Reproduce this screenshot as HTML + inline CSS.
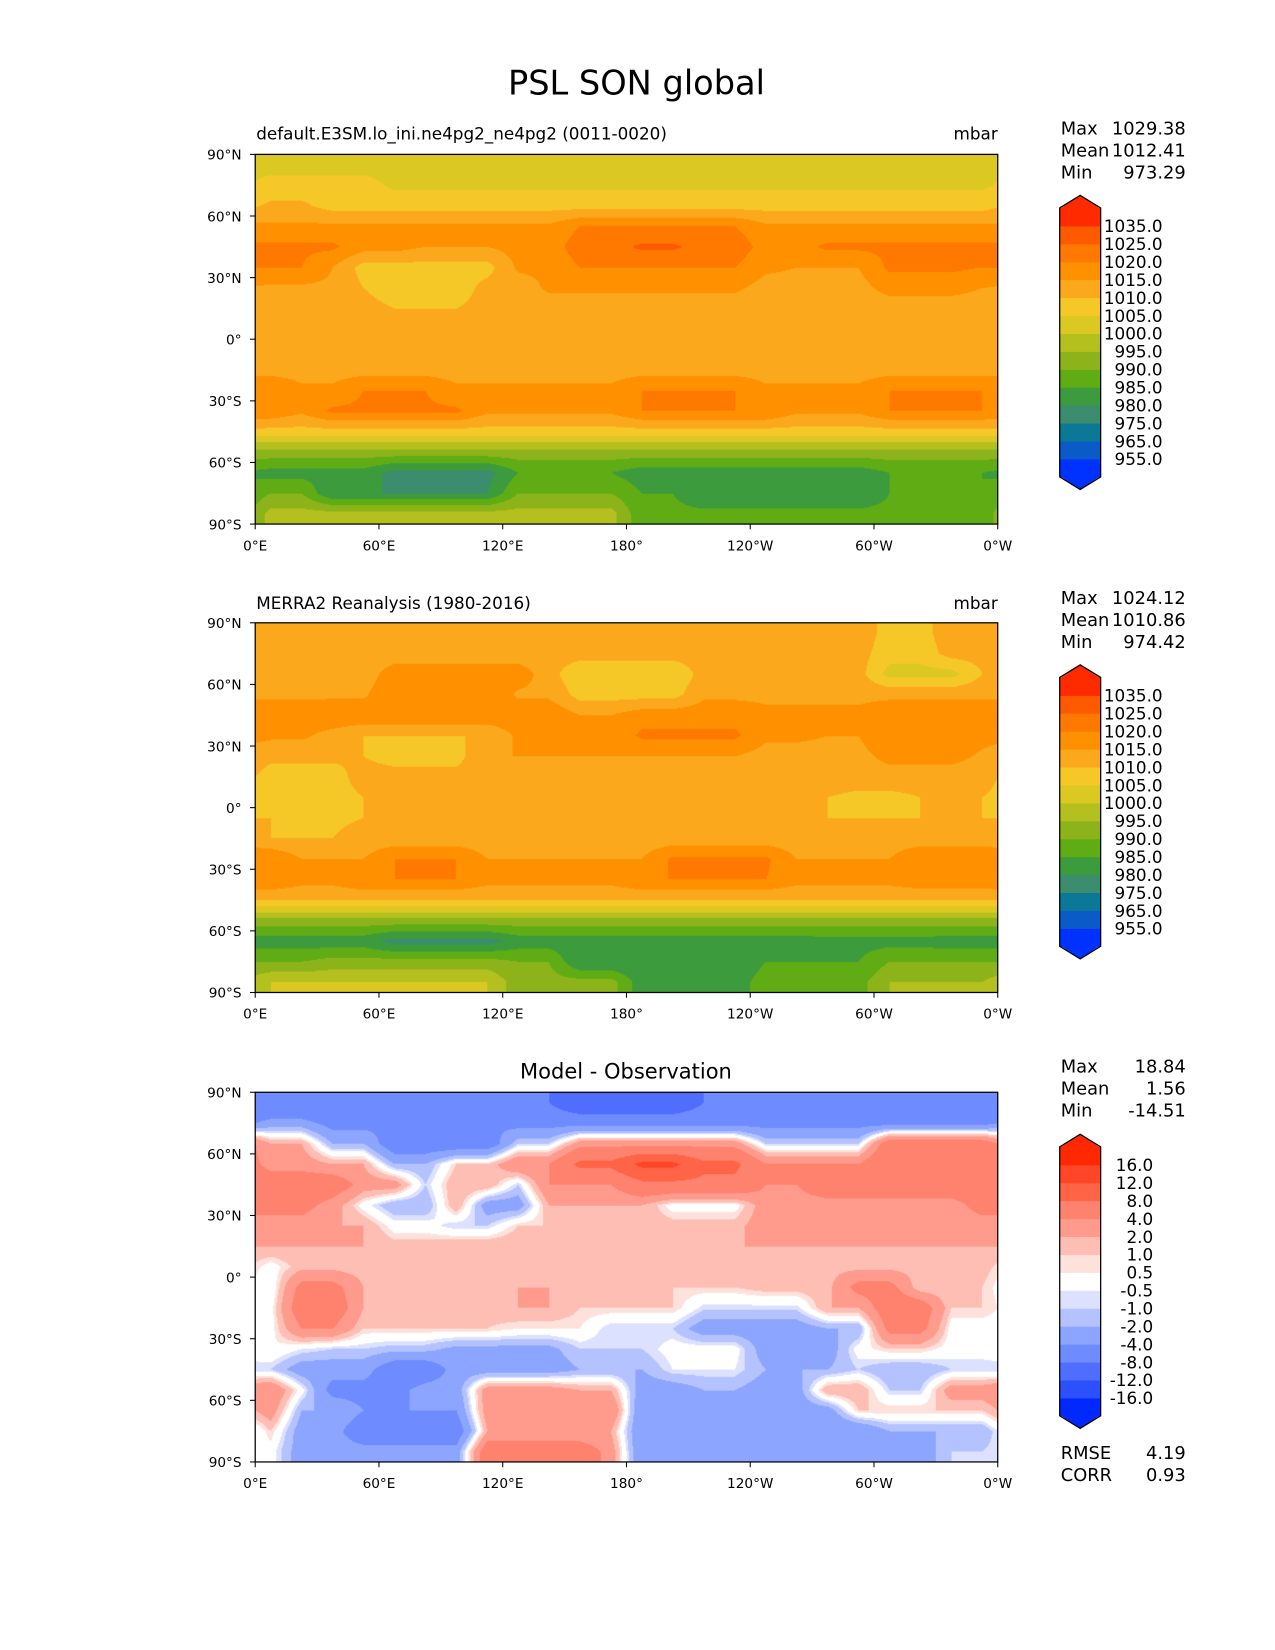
<!DOCTYPE html>
<html><head><meta charset="utf-8"><style>
html,body{margin:0;padding:0;background:#fff;width:1275px;height:1650px;overflow:hidden}
#root{position:absolute;left:0;top:0;width:1214px;height:1571px;transform:scale(1.05025);transform-origin:0 0;font-family:"DejaVu Sans","Liberation Sans",sans-serif}
canvas{position:absolute}
svg{position:absolute;left:0;top:0}
</style></head><body>
<div id="root">
<canvas id="c1" width="707" height="352" style="left:243px;top:147px"></canvas>
<canvas id="c2" width="707" height="352" style="left:243px;top:593px"></canvas>
<canvas id="c3" width="707" height="352" style="left:243px;top:1040px"></canvas>
<svg id="ov" width="1214" height="1571">
<text x="606" y="90" font-size="32" text-anchor="middle">PSL SON global</text>
<text x="244" y="133" font-size="16">default.E3SM.lo_ini.ne4pg2_ne4pg2 (0011-0020)</text>
<text x="950" y="133" font-size="16" text-anchor="end">mbar</text>
<text x="244" y="580" font-size="16">MERRA2 Reanalysis (1980-2016)</text>
<text x="950" y="580" font-size="16" text-anchor="end">mbar</text>
<text x="596" y="1027" font-size="20" text-anchor="middle">Model - Observation</text>
<g font-size="17">
<text x="1010" y="128">Max</text><text x="1129" y="128" text-anchor="end">1029.38</text>
<text x="1010" y="149">Mean</text><text x="1129" y="149" text-anchor="end">1012.41</text>
<text x="1010" y="170">Min</text><text x="1129" y="170" text-anchor="end">973.29</text></g>
<g font-size="17">
<text x="1010" y="575">Max</text><text x="1129" y="575" text-anchor="end">1024.12</text>
<text x="1010" y="596">Mean</text><text x="1129" y="596" text-anchor="end">1010.86</text>
<text x="1010" y="617">Min</text><text x="1129" y="617" text-anchor="end">974.42</text></g>
<g font-size="17">
<text x="1010" y="1021">Max</text><text x="1129" y="1021" text-anchor="end">18.84</text>
<text x="1010" y="1042">Mean</text><text x="1129" y="1042" text-anchor="end">1.56</text>
<text x="1010" y="1063">Min</text><text x="1129" y="1063" text-anchor="end">-14.51</text>
<text x="1010" y="1389">RMSE</text><text x="1129" y="1389" text-anchor="end">4.19</text>
<text x="1010" y="1410">CORR</text><text x="1129" y="1410" text-anchor="end">0.93</text></g>
</svg>
</div>
<script>
const latTicks=["90°N","60°N","30°N","0°","30°S","60°S","90°S"];
const lonTicks=["0°E","60°E","120°E","180°","120°W","60°W","0°W"];
const pslLevels=[955,965,975,980,985,990,995,1000,1005,1010,1015,1020,1025,1035];
const pslColors=["#0032ff","#0a5ac8","#0a7896","#3c8c6e","#3c9b3c","#5fac14","#8cb41a","#b4c01e","#dcc823","#f5c828","#fca81c","#ff9000","#ff7800","#ff5a00","#ff2a00"];
const pslTickLabels=["955.0","965.0","975.0","980.0","985.0","990.0","995.0","1000.0","1005.0","1010.0","1015.0","1020.0","1025.0","1035.0"];
const diffLevels=[-16,-12,-8,-4,-2,-1,-0.5,0.5,1,2,4,8,12,16];
const diffColors=["#0028ff","#2d50ff","#4f6eff","#6e8cff","#8ca5ff","#b4c3ff","#dce1ff","#ffffff","#ffe1dc","#ffbeb4","#ff9b8c","#ff826e","#ff6446","#ff4628","#ff2800"];
const diffTickLabels=["-16.0","-12.0","-8.0","-4.0","-2.0","-1.0","-0.5","0.5","1.0","2.0","4.0","8.0","12.0","16.0"];
// rows: lat 85..-85 (10°), cols: lon 7.5..352.5 (15°)
const modelPSL=[
[1003,1003,1003,1003,1003,1003,1003,1003,1003,1003,1003,1003,1003,1003,1003,1003,1003,1003,1003,1003,1003,1003,1003,1003],
[1007,1007,1007,1007,1004,1004,1004,1004,1004,1004,1004,1004,1004,1004,1004,1004,1004,1004,1004,1004,1004,1004,1004,1004],
[1011,1011,1008,1008,1008,1008,1008,1008,1008,1008,1008,1008,1008,1008,1008,1008,1008,1008,1008,1008,1008,1008,1008,1008],
[1016,1016,1016,1016,1016,1016,1016,1016,1016,1016,1020,1020,1020,1020,1020,1020,1016,1016,1016,1016,1016,1016,1016,1016],
[1021,1021,1021,1017,1017,1015,1015,1015,1017,1017,1023,1023,1026,1026,1023,1023,1018,1018,1021,1021,1021,1021,1021,1021],
[1020,1020,1015,1008,1008,1008,1008,1008,1016,1016,1020,1020,1020,1020,1020,1020,1016,1015,1015,1015,1021,1021,1021,1020],
[1014,1014,1014,1010,1007,1007,1007,1012,1012,1016,1016,1016,1016,1016,1016,1016,1013,1013,1013,1013,1017,1017,1017,1015],
[1012,1012,1012,1012,1010,1010,1010,1012,1012,1012,1012,1012,1012,1012,1012,1012,1012,1012,1012,1012,1012,1012,1012,1012],
[1011,1011,1011,1011,1011,1011,1011,1011,1011,1011,1011,1011,1011,1011,1011,1011,1011,1011,1011,1011,1011,1011,1011,1011],
[1011,1011,1011,1011,1011,1011,1011,1011,1011,1011,1011,1011,1011,1011,1011,1011,1011,1011,1011,1010,1010,1011,1011,1011],
[1013,1013,1013,1013,1013,1013,1013,1013,1013,1013,1013,1013,1013,1013,1013,1013,1013,1013,1013,1013,1013,1013,1013,1013],
[1020,1016,1016,1020,1020,1020,1016,1016,1016,1016,1016,1016,1020,1020,1020,1020,1016,1016,1016,1016,1020,1020,1020,1020],
[1019,1016,1021,1021,1021,1021,1021,1016,1016,1016,1016,1016,1020,1020,1020,1020,1020,1016,1016,1016,1020,1020,1020,1020],
[1008,1008,1008,1008,1008,1008,1008,1008,1008,1008,1008,1008,1008,1008,1008,1008,1008,1008,1008,1008,1008,1008,1008,1008],
[993,993,993,993,993,993,993,993,993,993,993,993,993,993,993,993,993,993,993,993,993,993,993,993],
[983,983,983,983,978,978,978,978,985,985,985,985,982,982,982,982,982,982,982,982,985,985,985,985],
[990,990,980,980,980,980,980,980,990,990,990,990,985,985,982,982,982,982,982,982,985,985,985,985],
[997,997,997,997,997,997,997,997,997,997,997,997,986,986,986,986,986,986,986,986,986,986,986,986]];
const obsPSL=[
[1013,1013,1013,1013,1013,1013,1013,1013,1013,1013,1013,1013,1013,1013,1013,1013,1013,1013,1013,1013,1008,1008,1013,1013],
[1012,1012,1012,1012,1012,1012,1012,1012,1012,1012,1012,1012,1012,1012,1012,1012,1012,1012,1012,1012,1007,1007,1012,1012],
[1012,1012,1012,1012,1018,1018,1018,1018,1018,1012,1006,1006,1006,1006,1012,1012,1012,1012,1012,1012,1003,1003,1003,1010],
[1014,1014,1014,1014,1020,1020,1020,1020,1014,1014,1008,1008,1008,1008,1014,1014,1014,1014,1014,1014,1014,1014,1014,1014],
[1018,1018,1019,1019,1019,1019,1019,1019,1019,1019,1015,1015,1018,1018,1018,1018,1016,1016,1016,1016,1018,1018,1018,1018],
[1016,1016,1013,1010,1010,1010,1010,1010,1016,1016,1016,1016,1021,1021,1021,1021,1016,1016,1015,1015,1020,1020,1020,1017],
[1011,1011,1011,1010,1008,1008,1008,1015,1015,1015,1015,1015,1015,1015,1015,1015,1013,1013,1013,1013,1017,1017,1017,1014],
[1008,1008,1008,1012,1012,1012,1012,1012,1012,1012,1012,1012,1012,1012,1012,1012,1012,1012,1012,1012,1012,1012,1012,1012],
[1008,1008,1008,1010,1010,1010,1010,1010,1010,1010,1010,1010,1010,1010,1010,1010,1010,1010,1010,1009,1009,1010,1010,1010],
[1010,1009,1009,1010,1010,1010,1010,1010,1010,1010,1010,1010,1010,1010,1010,1010,1010,1010,1010,1010,1010,1010,1010,1010],
[1010,1010,1010,1012,1012,1012,1012,1012,1012,1012,1012,1012,1012,1012,1012,1012,1012,1012,1012,1012,1012,1012,1012,1012],
[1020,1015,1015,1015,1020,1020,1020,1015,1015,1015,1015,1015,1015,1021,1021,1021,1021,1015,1015,1015,1015,1020,1020,1020],
[1020,1017,1017,1020,1020,1020,1020,1017,1017,1017,1017,1017,1020,1020,1020,1020,1020,1017,1017,1017,1017,1019,1019,1019],
[1010,1010,1010,1010,1010,1010,1010,1010,1010,1010,1010,1010,1010,1010,1010,1010,1010,1010,1010,1010,1010,1010,1010,1010],
[993,993,993,993,993,993,993,993,993,993,993,993,993,993,993,993,993,993,993,993,993,993,993,993],
[982,982,982,982,978,978,978,978,982,982,982,982,982,982,982,982,982,982,983,983,983,983,982,982],
[990,990,992,992,992,992,992,992,990,990,980,980,980,980,980,980,985,985,985,985,990,990,990,990],
[1000,1000,1000,1000,1000,1000,1000,1000,992,992,992,992,982,982,982,982,988,988,988,988,995,995,995,995]];
const diffPSL=[
[-8,-8,-8,-8,-8,-8,-8,-8,-8,-8,-12,-12,-12,-12,-8,-8,-8,-8,-8,-8,-8,-8,-8,-8],
[-3,-3,-5,-5,-4,-4,-4,-4,-5,-5,-5,-5,-5,-5,-5,-5,-5,-5,-5,-5,-5,-5,-5,-5],
[2,2,-2,-2,-6,-6,-6,-6,-1,-1,3,3,3,3,3,3,-1,-1,-1,-1,6,6,6,6],
[3,3,2,2,-2,-2,1,1,4,4,9,9,13,13,9,9,4,4,4,4,8,8,8,6],
[6,6,6,3,3,-1,2,2,-1,4,4,4,7,7,7,7,4,4,6,6,6,6,6,6],
[5,5,3,0,-2,-2,2,-3,-3,2,2,2,2,0,0,0,3,3,3,3,3,3,3,5],
[3,3,2,2,0,0,-1,-1,1,1,1.5,1.5,1.5,1.5,1.5,1.5,3,3,3,3,3,3,3,3],
[2,2,2,2,1.5,1.5,2,2,2,2,2,2,2,2,2,2,2,2,2,2,2,2,2,2],
[0,1.5,1.5,1.2,1.2,1.2,1.5,1.5,1.5,1.5,1.5,1.5,1.5,1.5,1.5,1.5,1.5,1.5,1.5,1.5,1.5,1.5,1.5,1.5],
[-0.5,5,5,2,2,2,2,2,2,2,1,1,1,1,1,1,1.5,1.5,1.5,5,5,1,1,1],
[0,6,6,2,1.5,1.5,1.5,1.5,2,2,1,1,1,1,-0.8,-0.8,-0.8,-0.8,2,2,6,6,1,1],
[0,4,4,1,1,1,1,1,0.5,0.5,0.5,-1,-1,-1,-3,-3,-3,-3,-2,-2,5,5,0,0],
[0.5,-0.5,-1,-1,-1.5,-1.5,-2.5,-2.5,-2.5,-2.5,-1,-1,-1,0,0,0,-3,-3,-3,0,1,1,0,0],
[-1,-3,-3,-3,-6,-6,-3,-3,-3,-3,-2,-2,-2,-0.5,-0.5,-0.5,-2,-2,-2,-1,-2,-2,-1,-1],
[4,0,-5,-5,-5,-3,-3,3,3,3,2,2,-3,-3,-2,-2,-3,-3,2,2,-1,-1,3,3],
[3,-2,-2,-4,-4,-4,-4,3,3,3,4,4,-4,-4,-3,-3,-3,-3,-3,1,1,1,1,1],
[1,-3,-3,-6,-6,-6,-6,2,2,2,2,2,-4,-4,-4,-4,-4,-4,-4,-4,-2,-2,-2,-2],
[0,-3,-3,-3,-3,-3,-3,6,6,6,6,3,-4,-4,-4,-4,-4,-4,-3,-3,-3,-3,-1,-1]];

const W=707,H=352;
function xScale(lon){return lon/360*W;}
function yScale(lat){return (90-lat)/180*H;}
function hex(c){return [parseInt(c.substr(1,2),16),parseInt(c.substr(3,2),16),parseInt(c.substr(5,2),16)];}
function sample(grid,lon,lat){
  let fj=(lon-7.5)/15, fi=(85-lat)/10;
  fi=Math.max(0,Math.min(17,fi));
  const i0=Math.floor(fi), i1=Math.min(17,i0+1), ti=fi-i0;
  const jf=Math.floor(fj), tj=fj-jf;
  const j0=((jf%24)+24)%24, j1=(j0+1)%24;
  const a=grid[i0][j0]*(1-tj)+grid[i0][j1]*tj;
  const b=grid[i1][j0]*(1-tj)+grid[i1][j1]*tj;
  return a*(1-ti)+b*ti;
}
function drawField(id,grid,levels,colors){
  const ctx=document.getElementById(id).getContext('2d');
  const img=ctx.createImageData(W,H);const rgb=colors.map(hex);
  for(let py=0;py<H;py++){const lat=90-(py+0.5)/H*180;
    for(let px=0;px<W;px++){const lon=(px+0.5)/W*360;
      const v=sample(grid,lon,lat);let k=0;while(k<levels.length&&v>=levels[k])k++;
      const c=rgb[k],o=(py*W+px)*4;img.data[o]=c[0];img.data[o+1]=c[1];img.data[o+2]=c[2];img.data[o+3]=255;}}
  ctx.putImageData(img,0,0);
}
drawField('c1',modelPSL,pslLevels,pslColors);
drawField('c2',obsPSL,pslLevels,pslColors);
drawField('c3',diffPSL,diffLevels,diffColors);

const NS="http://www.w3.org/2000/svg";const ov=document.getElementById('ov');
function mk(tag,attrs,parent){const e=document.createElementNS(NS,tag);for(const k in attrs)e.setAttribute(k,attrs[k]);(parent||ov).appendChild(e);return e;}
[147,593,1040].forEach((top,p)=>{
  const g=mk('g',{});
  
  
  mk('rect',{x:243,y:top,width:W,height:H,fill:'none',stroke:'#000','stroke-width':1.2},g);
  latTicks.forEach((t,i)=>{const y=top+yScale(90-30*i);
    mk('line',{x1:238,x2:243,y1:y,y2:y,stroke:'#000'},g);
    const tx=mk('text',{x:230,y:y+5,'font-size':13,'text-anchor':'end'},g);tx.textContent=t;
    
    });
  lonTicks.forEach((t,i)=>{const x=243+xScale(60*i);
    mk('line',{x1:x,x2:x,y1:top+H,y2:top+H+5,stroke:'#000'},g);
    const tx=mk('text',{x:x,y:top+H+25,'font-size':13,'text-anchor':'middle'},g);tx.textContent=t;
    
    });
});
function colorbar(tip,colors,labels,labelX){
  const g=mk('g',{});
  
  
  const x0=1009,x1=1048,xm=1028.5,top=tip+12,bh=17.07,n=colors.length,bot=top+n*bh;
  mk('polygon',{points:`${x0},${top+1} ${xm},${tip} ${x1},${top+1}`,fill:colors[n-1]},g);
  mk('polygon',{points:`${x0},${bot-1} ${xm},${bot+12} ${x1},${bot-1}`,fill:colors[0]},g);
  for(let k=0;k<n;k++){const r=mk('rect',{x:x0,y:top+(n-1-k)*bh,width:x1-x0,height:bh+0.5,fill:colors[k]},g);
    
    }
  mk('polygon',{points:`${x0},${top} ${xm},${tip} ${x1},${top} ${x1},${bot} ${xm},${bot+12} ${x0},${bot}`,fill:'none',stroke:'#000','stroke-width':1.2},g);
  labels.forEach((t,i)=>{const y=bot-(i+1)*bh;
    const tx=mk('text',{x:labelX,y:y+6,'font-size':16,'text-anchor':'end'},g);tx.textContent=t;
    
    });
}
colorbar(186,pslColors,pslTickLabels,1107);
colorbar(633,pslColors,pslTickLabels,1107);
colorbar(1080,diffColors,diffTickLabels,1098);
</script>
</body></html>
